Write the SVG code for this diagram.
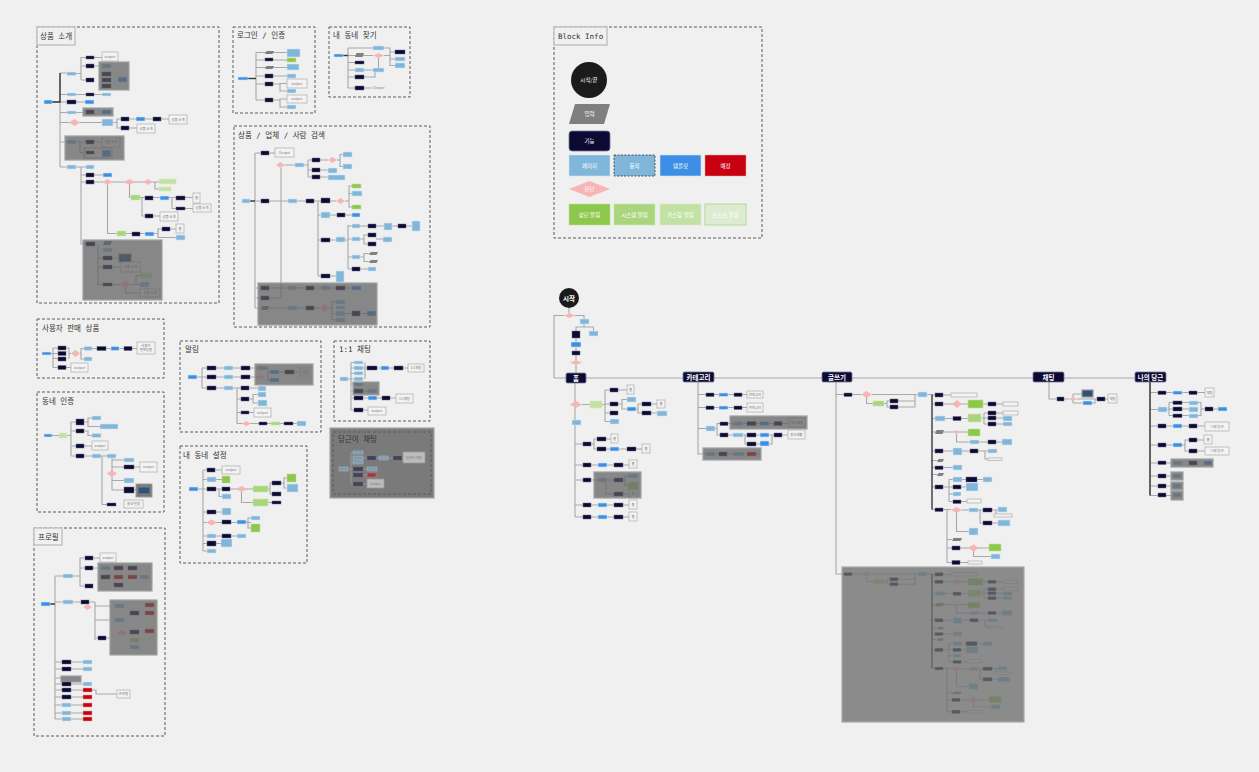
<svg xmlns="http://www.w3.org/2000/svg" xmlns:xlink="http://www.w3.org/1999/xlink" width="1259" height="772" viewBox="0 0 1259 772">
<style>
.f{fill:#0c0933;stroke:#6c6c8c;stroke-width:.5}
.p{fill:#80b6d9;stroke:#d3e4f0;stroke-width:.6}
.t{fill:#3d8fe6;stroke:#d3e4f0;stroke-width:.6}
.r{fill:#c8000f;stroke:#e0a0a0;stroke-width:.5}
.o{fill:#f3f3f3;stroke:#b5b5b5;stroke-width:.8}
.i{fill:#7f7f7f}
.d{fill:#f7b6b6}
.g1{fill:#8cc84b;stroke:#bfe09a;stroke-width:.6}
.g2{fill:#a9d67c;stroke:#cbe6b0;stroke-width:.6}
.g3{fill:#c3e1a3;stroke:#d9ecc6;stroke-width:.6}
.g4{fill:#dcebd1;stroke:#b3d897;stroke-width:1}
.sh{fill:#5e5e5e;fill-opacity:.72;stroke:#a0a0a0;stroke-width:1.2}
.db{fill:#2f5580;stroke:#8a8a8a;stroke-width:.8}
.c{stroke:#a8a8a8;stroke-width:1.1;fill:none}
.cd{stroke:#3a3a3a;stroke-width:1.4;fill:none}
.fr{fill:none;stroke:#5a5a5a;stroke-width:1;stroke-dasharray:3 2}
.tb{fill:#f0f0f0;stroke:#c4c4c4;stroke-width:1.5}
.tt{font-family:"DejaVu Sans Mono","Noto Sans CJK KR",monospace;font-size:7.5px;fill:#333}
.ot{font-family:"Noto Sans CJK KR",sans-serif;font-size:3.4px;fill:#777;text-anchor:middle}
.lt{font-family:"Noto Sans CJK KR",sans-serif;font-size:5.5px;fill:#fff;text-anchor:middle}
.mt{font-family:"Noto Sans CJK KR",sans-serif;font-size:6.5px;fill:#fff;text-anchor:middle;font-weight:bold}
.mn{fill:#0c0933;stroke:#7a7a9a;stroke-width:.8}
</style>
<defs>
<g id="wtreeC">
<path class="c" d="M852 394.5H861M872 394.5H918M866.5 398V403.5H873M884 403.5H887V401H890M887 403.5V407H890M898 401H915V394.5M898 407H915V401M927 394.5H932"/>
<path class="c" d="M932 395H951M943 404H1003M932 404H935M932 418.5H935M945 418.5H968M981 418H984M984 413V424M984 413H1003M984 418H1003M984 424H1003M932 432H968M956.5 434V442H1002M932 451H988M985 451V459H988M932 460.5H937M932 467.5H953M932 474.5H937M932 487H949M949 479.5V501.5M949 479.5H992M949 487H966M949 494H953M949 501.5H967M932 509.5H951M962 510H1007M980 510V523H998M996 510V515.5M956.5 513V531.5H969M947 509.5V562.5M947 539.5H952M947 548H989M973.5 551V556.5H991M947 562.5H968"/>
<path class="cd" d="M932 394.5V509.5"/>
</g>
<g id="wtreeN">
<rect class="f" x="844" y="393" width="8" height="3.5"/>
<polygon class="d" points="861,394.5 866.5,391 872,394.5 866.5,398"/>
<rect class="p" x="918" y="392" width="9" height="5"/>
<rect class="g2" x="873" y="401" width="11" height="5"/>
<rect class="f" x="890" y="399" width="8" height="4"/>
<rect class="f" x="890" y="405" width="8" height="4"/>
<rect class="f" x="935" y="393" width="8" height="4"/>
<rect class="o" x="951" y="393" width="26" height="4"/>
<rect class="f" x="935" y="402" width="8" height="4"/>
<polygon class="d" points="952,404 957,400 962,404 957,408"/>
<rect class="g1" x="968" y="400" width="15" height="8"/>
<rect class="f" x="988" y="402" width="8" height="4"/>
<rect class="o" x="1003" y="402" width="15" height="4"/>
<rect class="p" x="935" y="416" width="10" height="5"/>
<rect class="f" x="953" y="416.5" width="8" height="4"/>
<rect class="g2" x="968" y="414" width="13" height="8"/>
<rect class="f" x="988" y="411" width="8" height="4"/>
<rect class="o" x="1003" y="411" width="15" height="4"/>
<rect class="f" x="988" y="416" width="8" height="4"/>
<rect class="p" x="1003" y="416" width="9" height="5"/>
<rect class="f" x="988" y="422" width="8" height="4"/>
<rect class="p" x="1003" y="422" width="9" height="4"/>
<polygon class="i" points="935,434 936.5,430 944,430 942.5,434"/>
<polygon class="d" points="953,432 956.5,430 960,432 956.5,434"/>
<rect class="g1" x="968" y="429" width="12" height="7"/>
<rect class="p" x="970" y="440" width="9" height="4"/>
<rect class="f" x="988" y="440" width="8" height="4"/>
<rect class="p" x="1002" y="439" width="10" height="6"/>
<rect class="f" x="935" y="449" width="8" height="4"/>
<rect class="p" x="953" y="448" width="9" height="7"/>
<rect class="f" x="970" y="449" width="8" height="4"/>
<rect class="p" x="988" y="449" width="9" height="4"/>
<rect class="o" x="988" y="458" width="14" height="2.5"/>
<polygon class="i" points="937,462 938.5,459 944,459 942.5,462"/>
<rect class="f" x="935" y="466" width="8" height="3.5"/>
<rect class="p" x="953" y="465" width="9" height="5"/>
<polygon class="i" points="937,476 938.5,473 944,473 942.5,476"/>
<rect class="f" x="935" y="485" width="8" height="4"/>
<rect class="p" x="953" y="477" width="9" height="5"/>
<rect class="f" x="966" y="477" width="11" height="5"/>
<rect class="p" x="983" y="477" width="9" height="5"/>
<rect class="f" x="953" y="485" width="8" height="4"/>
<rect class="p" x="966" y="483" width="12" height="8"/>
<rect class="p" x="953" y="492" width="8" height="4"/>
<rect class="f" x="953" y="500" width="8" height="3.5"/>
<rect class="o" x="967" y="499" width="14" height="4"/>
<rect class="f" x="935" y="508" width="8" height="3.5"/>
<polygon class="d" points="951,510 956.5,507 962,510 956.5,513"/>
<rect class="p" x="969" y="508" width="9" height="4"/>
<rect class="f" x="983" y="508" width="9" height="4"/>
<rect class="p" x="998" y="507" width="9" height="5"/>
<rect class="o" x="994" y="514" width="18" height="3"/>
<rect class="f" x="983" y="521" width="9" height="4"/>
<rect class="p" x="998" y="520" width="12" height="6"/>
<rect class="p" x="969" y="528" width="9" height="7"/>
<polygon class="i" points="952,541 953.5,538 962,538 960.5,541"/>
<rect class="f" x="952" y="546" width="8" height="4"/>
<polygon class="d" points="968,548 973.5,544.5 979,548 973.5,551.5"/>
<rect class="g1" x="989" y="544" width="12" height="7"/>
<rect class="p" x="991" y="554" width="9" height="5"/>
<rect class="f" x="952" y="560.5" width="8" height="4"/>
<rect class="o" x="968" y="561" width="14" height="3"/>
</g>
</defs>
<rect width="1259" height="772" fill="#f0f0f0"/>

<g id="frames">
<rect class="fr" x="37" y="27" width="182" height="276"/>
<rect class="tb" x="37" y="27" width="38" height="18"/>
<text class="tt" x="40" y="39">상품 소개</text>
<rect class="fr" x="233" y="27" width="82" height="86"/>
<text class="tt" x="237" y="38">로그인 / 인증</text>
<rect class="fr" x="329" y="27" width="81" height="70"/>
<text class="tt" x="333" y="38">내 동네 찾기</text>
<rect class="fr" x="234" y="126" width="196" height="201"/>
<text class="tt" x="238" y="138">상품 / 업체 / 사람 검색</text>
<rect class="fr" x="554" y="27" width="208" height="211"/>
<rect class="tb" x="554" y="27" width="53" height="18"/>
<text class="tt" x="558" y="39">Block Info</text>
<rect class="fr" x="37" y="319" width="127" height="59"/>
<text class="tt" x="42" y="331">사용자 판매 상품</text>
<rect class="fr" x="37" y="392" width="127" height="120"/>
<text class="tt" x="42" y="404">동네 인증</text>
<rect class="fr" x="34" y="528" width="131" height="208"/>
<rect class="tb" x="34" y="528" width="28" height="17"/>
<text class="tt" x="38" y="540">프로필</text>
<rect class="fr" x="180" y="341" width="141" height="91"/>
<text class="tt" x="185" y="352">알림</text>
<rect class="fr" x="334" y="341" width="96" height="80"/>
<text class="tt" x="339" y="352">1:1 채팅</text>
<rect x="330" y="428" width="104" height="70" fill="#7a7a7a" stroke="#a5a5a5" stroke-width="1.2"/>
<rect class="fr" x="333" y="432" width="98" height="62" stroke="#333"/>
<text class="tt" x="338" y="442" fill="#222">당근이 채팅</text>
<rect class="fr" x="180" y="446" width="127" height="117"/>
<text class="tt" x="183" y="458">내 동네 설정</text>
</g>

<g id="connectors">
<!-- 상품 소개 -->
<path class="c" d="M52 102H60M60 73V167M60 73H67M76 73.5H81M81 57V80M81 57.5H102M81 66H99M81 80H86M60 94.5H102M60 102H85M60 112.5H83M60 122.5H102M113 122.5H117V119H169M117 122.5V128H137M60 142H67M76 142H102M80 142V152.5H84M60 167H86M81 167V244H86M81 175H103M81 182H159M152 182H155V189H159M129.5 185V197.5H193M172 197.5V208.5H193M142 197.5V216H160M107.5 185V233.5H154M154 233.5H158V229H176M158 233.5V237.5H176M98 244V285M98 258H119M98 267H121M98 284.5H120M131 284.5H136V275.5H140M136 284.5H140M125.5 288V293H140"/>
<path class="cd" d="M52 102H60V73"/>
<!-- 로그인 -->
<path class="c" d="M248 78.5H256M256 52.5V100M256 52.5H287M256 60H287M256 67.5H287M256 76H287M256 84H280V83.5H287M280 84V91H287M256 100H280V99H287M280 100V107H287"/>
<path class="cd" d="M248 78.5H256"/>
<!-- 내 동네 찾기 -->
<path class="c" d="M343 55.5H348M348 48V88M348 48H373M384 48H390V52H395M348 55.5H373M384 55.5H390M390 52V66M390 59H395M390 65.5H395M348 62.5H355M348 70H373M378.5 58V68M348 77H355M364 77H375V72M348 88H372"/>
<path class="cd" d="M343 55.5H348"/>
<!-- 검색 -->
<path class="c" d="M250 201H255M255 153V308M255 153H275M255 201H321M318 201V276M330 201H336M345 201H349V186H352M349 201V207H352M349 193.5H352M318 215H352M318 240H336M345 240H348M348 225V269M348 226H412M348 239H352M360 239H364V235H368M364 239V244H368M376 239H383M348 257H352M360 257H364V253.5H369M364 257V261.5H369M348 269H368M318 276H336M269 298H281V168M285 165H295M304 165H308M308 160V177M308 160H312M320 160H328M337 160H340V154.5H343M340 160V166.5H343M308 170H328M308 177H328M255 288H361M255 308H320M329 308H332V302H336M332 308V320H336M332 313.5H367M255 298H261"/>
<path class="cd" d="M250 201H255"/>
<!-- 사용자 판매 상품 -->
<path class="c" d="M51 353.5H53M53 348V367.5M53 348H58M53 353.5H58M53 358.5H58M66 348H69V359M69 353.5H71M80 353.5H81V348.5H84M81 353.5V359H84M92 348.5H137M53 367.5H71"/>
<!-- 동네 인증 -->
<path class="c" d="M52 435.5H59M67 435.5H71M71 422V456M71 422H76M84 422H88V418H92M88 422V426.5H100M71 431H76M84 431H88V435.5H92M71 446H92M71 456H107M102 456V504.5H107M112 458V490M112 460H124M112 467H140M112 473.5H107M112 480.5H124M112 490H124M134 490H138"/>
<!-- 알림 -->
<path class="c" d="M197 377H202M202 368V388M202 368H258M267 368H268V380H270M268 372H270M279 372H300M202 377H258M202 388H258M237 388V423.5M237 399H241M249 399H253V394.5H258M253 399V403H258M237 412.5H254M237 423.5H297"/>
<!-- 1:1 채팅 -->
<path class="c" d="M348 379H351M351 362.5V410M351 362.5H354M351 368H367M351 373.5H354M351 379H354M351 384H354M351 391H368M365 362.5V379M377 368H408M351 398H396M351 410H368"/>
<!-- 당근이 채팅 -->
<path class="c" d="M348 469H351M351 452.5V484M351 452.5H353M351 458H353M351 462.5H353M363 458H403M351 469H367M351 475H367M351 484H367" opacity=".6"/>
<!-- 내 동네 설정 -->
<path class="c" d="M198 489H203M203 470V551M203 470H222M203 479.5H222M203 489H253M216 489H219V496.5H222M241.5 492V502.5H253M268 489H270V483H272M270 489V494H272M281 483H284V478H287M284 483V488H287M268 502.5H272M203 512H222M203 522.5H251M246 522H248V518H251M248 522V528H251M203 536H237M203 543.5H221M203 551H207"/>
<!-- 프로필 -->
<path class="c" d="M50 604H55M55 576V719M55 576H63M73 576H80M80 558V586M80 558H100M80 568H98M80 586H85M55 602H63M73 602H81M89 602H95M95 602V640M95 606H110M95 620H110M95 638H98M106 638H110M55 662H62M71 662H83M55 669H62M71 669H83M55 678H62M55 684H62M71 684H83M55 690H62M71 690H83M92 690H96V694H117M55 697H62M71 697H83M55 705H62M71 705H83M55 713H62M71 713H83M55 719H62M71 719H83"/>
<path class="cd" d="M50 604H55"/>
<!-- main flow -->
<path class="c" d="M569 308V313M564 315.5H554V378M575 315.5H584V319M584 324V327H576V331M584 327H593.5V331M576 338V342M576 347V351M576 355V360M576 365V373"/>
<path class="c" d="M554 378H1135" stroke="#9a9a9a"/>
<path class="c" d="M575 383V517M582 404.5H590M602 404.5H605M605 390V421.5M605 390H627M605 404H610M605 413H610M605 421.5H610M618 404H622V399.5H627M622 404V409H627M636 409H638V404H642M638 409V413H642M651 404H657M651 413H657M575 444H583M591 444H594V439H611M594 444V449H642M575 465H629M575 480H583M591 480H614M623 480H625V476H628M625 480V485.5H628M606 480V494H614M623 494H629M575 505H629M575 517H629"/>
<path class="c" d="M698 382V454H703M698 394.5H747M698 407.5H747M698 428.5H706M715 428.5H717V423.5H720M717 428.5V435H720M728 423.5H789M728 435H788M743 435H745V444H747M756 444H760M769 444H772V435M703 454H761"/>
<path class="c" d="M836 382V574H844M836 394.5H844"/>
<use xlink:href="#wtreeC"/>
<use xlink:href="#wtreeC" transform="matrix(1,0,0,0.82,0,250.5)"/>
<path class="c" d="M1049 382V399H1057M1064 399H1069M1077 399H1097M1073 394V403M1073 394H1082M1073 403H1083M1092 403H1095V399M1105 399H1108"/>
<path class="c" d="M1150 382V495.5M1150 392.5H1205M1150 409.5H1158M1167 409.5H1169M1169 402.5V415.5M1169 402.5H1198M1169 409H1198M1169 415.5H1198M1198 402.5H1201V415.5H1198M1201 409H1218M1150 426H1205M1150 445H1182M1182 445H1185V440H1204M1185 445V451H1205M1150 463H1171M1150 476H1171M1150 486H1171M1150 495.5H1171"/>
<path class="cd" d="M1150 382V495.5"/>
</g>

<g id="legend">
<circle cx="589" cy="80" r="18" fill="#1b1b1b"/>
<text class="lt" x="589" y="82">시작/끝</text>
<polygon points="569,124 575,104 610,104 604,124" fill="#7f7f7f"/>
<text class="lt" x="589.5" y="116">입력</text>
<rect x="569" y="131" width="41" height="20" rx="3" class="mn"/>
<text class="lt" x="589.5" y="143">기능</text>
<rect class="p" x="569" y="155" width="41" height="21"/>
<text class="lt" x="589.5" y="167.5">페이지</text>
<rect x="614" y="155" width="41" height="21" fill="#80b6d9" stroke="#333" stroke-width=".8" stroke-dasharray="2 1.5"/>
<text class="lt" x="634.5" y="167.5">동작</text>
<rect class="t" x="660" y="155" width="41" height="21"/>
<text class="lt" x="680.5" y="167.5">템플릿</text>
<rect class="r" x="705" y="155" width="41" height="21"/>
<text class="lt" x="725.5" y="167.5">예정</text>
<polygon class="d" points="569,189 589.5,181 610,189 589.5,197"/>
<text class="lt" x="589.5" y="191">판단</text>
<rect class="g1" x="569" y="204" width="41" height="21"/>
<text class="lt" x="589.5" y="216.5">상단 알림</text>
<rect class="g2" x="614" y="204" width="41" height="21"/>
<text class="lt" x="634.5" y="216.5">시스템 알림</text>
<rect class="g3" x="660" y="204" width="41" height="21"/>
<text class="lt" x="680.5" y="216.5">커스텀 알림</text>
<rect class="g4" x="705" y="204" width="41" height="21"/>
<text class="lt" x="725.5" y="216.5">토스트 알림</text>
</g>

<g id="product-intro">
<rect class="t" x="44" y="100" width="8" height="4"/>
<rect class="p" x="67" y="72" width="9" height="3.5"/>
<rect class="f" x="86" y="56" width="8" height="3"/>
<rect class="o" x="102" y="52" width="16" height="9"/><text class="ot" x="110" y="57.7">output</text>
<rect class="f" x="86" y="64" width="8" height="4"/>
<rect class="p" x="102" y="64" width="9" height="4"/>
<rect class="f" x="102" y="72" width="9" height="4"/>
<rect class="f" x="102" y="78" width="9" height="4"/>
<rect class="f" x="102" y="84" width="9" height="4"/>
<rect class="t" x="118" y="77" width="9" height="5"/>
<rect class="sh" x="99" y="62" width="30" height="28"/>
<rect class="f" x="86" y="78" width="8" height="4"/>
<rect class="p" x="67" y="93" width="9" height="3"/>
<rect class="f" x="86" y="93" width="8" height="3"/>
<rect class="p" x="102" y="93" width="9" height="3"/>
<rect class="f" x="67" y="100" width="9" height="4"/>
<rect class="t" x="85" y="100" width="9" height="4"/>
<rect class="p" x="67" y="111" width="9" height="3"/>
<rect class="f" x="86" y="110" width="8" height="4"/>
<rect class="t" x="102" y="110" width="9" height="4"/>
<rect class="sh" x="83" y="108" width="30" height="8"/>
<polygon class="d" points="69,122.5 74.5,119 80,122.5 74.5,126"/>
<rect class="p" x="102" y="119" width="11" height="7"/>
<rect class="f" x="121" y="117" width="8" height="4"/>
<rect class="t" x="136" y="117" width="9" height="4"/>
<rect class="f" x="153" y="117" width="8" height="4"/>
<rect class="o" x="169" y="115" width="18" height="9"/><text class="ot" x="178" y="120.7">상품 소개</text>
<rect class="f" x="121" y="126" width="8" height="4"/>
<rect class="o" x="137" y="124" width="18" height="9"/><text class="ot" x="146" y="129.7">상품 소개</text>
<rect class="p" x="67" y="140" width="9" height="4"/>
<rect class="f" x="86" y="140" width="8" height="4"/>
<rect class="o" x="102" y="137" width="18" height="10"/><text class="ot" x="111" y="143.2">상품 소개</text>
<rect class="f" x="86" y="151" width="8" height="3"/>
<rect x="84" y="148" width="28" height="10" fill="none" stroke="#b89090" stroke-width=".8"/>
<rect class="t" x="102" y="150" width="9" height="7"/>
<rect class="sh" x="65" y="136" width="59" height="24"/>
<rect class="p" x="67" y="165" width="9" height="4"/>
<rect class="p" x="86" y="165" width="8" height="4"/>
<rect class="f" x="86" y="173" width="8" height="4"/>
<rect class="t" x="103" y="173" width="9" height="4"/>
<rect class="f" x="86" y="180" width="8" height="4"/>
<polygon class="d" points="103,182 107.5,179 112,182 107.5,185"/>
<polygon class="d" points="124,182 129.5,179 135,182 129.5,185"/>
<polygon class="d" points="144,182 148,179 152,182 148,185"/>
<rect class="g3" x="159" y="179" width="17" height="5"/>
<rect class="g3" x="159" y="187" width="12" height="4"/>
<rect class="g2" x="131" y="195" width="9" height="5"/>
<rect class="f" x="145" y="196" width="8" height="4"/>
<rect class="t" x="160" y="196" width="9" height="4"/>
<rect class="f" x="176" y="196" width="9" height="4"/>
<rect class="o" x="193" y="193" width="7" height="10"/><text class="ot" x="196.5" y="199.2">홈</text>
<rect class="f" x="176" y="207" width="9" height="3"/>
<rect class="o" x="193" y="204" width="18" height="8"/><text class="ot" x="202" y="209.2">상품 소개</text>
<rect class="f" x="145" y="214" width="8" height="4"/>
<rect class="o" x="160" y="212" width="18" height="9"/><text class="ot" x="169" y="217.7">상품 소개</text>
<rect class="g2" x="117" y="231" width="9" height="5"/>
<rect class="f" x="132" y="232" width="8" height="4"/>
<rect class="t" x="145" y="232" width="9" height="4"/>
<rect class="f" x="162" y="227" width="8" height="4"/>
<rect class="o" x="176" y="224" width="8" height="9"/><text class="ot" x="180" y="229.7">홈</text>
<rect class="p" x="176" y="235" width="9" height="5"/>
<rect class="f" x="86" y="242" width="9" height="4"/>
<polygon class="i" points="103,245 104.5,241 112,241 110.5,245"/>
<rect class="p" x="103" y="248" width="9" height="4"/>
<rect class="f" x="103" y="256" width="9" height="4"/>
<rect class="db" x="119" y="254" width="12" height="8"/>
<rect class="f" x="103" y="265" width="9" height="4"/>
<rect class="o" x="121" y="262" width="19" height="10"/><text class="ot" x="130.5" y="268.2">상품 소개</text>
<rect class="f" x="103" y="283" width="9" height="3"/>
<polygon class="d" points="120,284.5 125.5,281 131,284.5 125.5,288"/>
<rect class="g3" x="140" y="273" width="12" height="5"/>
<rect class="p" x="140" y="282" width="9" height="5"/>
<rect class="o" x="140" y="289" width="20" height="8"/><text class="ot" x="150" y="294.2">상품 소개</text>
<rect class="sh" x="83" y="240" width="79" height="60"/>
</g>

<g id="login">
<rect class="t" x="238" y="77" width="10" height="3"/>
<polygon class="i" points="265,54 266.5,51 274,51 272.5,54"/>
<rect class="p" x="287" y="49" width="13" height="8"/>
<rect class="f" x="265" y="58" width="8" height="3"/>
<rect class="g1" x="287" y="58" width="9" height="4"/>
<polygon class="i" points="265,69 266.5,66 274,66 272.5,69"/>
<rect class="p" x="287" y="64" width="12" height="6"/>
<rect class="f" x="265" y="74" width="8" height="4"/>
<rect class="p" x="287" y="74" width="9" height="4"/>
<rect class="f" x="265" y="82" width="8" height="4"/>
<rect class="o" x="287" y="79" width="20" height="9"/><text class="ot" x="297" y="84.7">output</text>
<rect class="p" x="287" y="89" width="9" height="4"/>
<rect class="f" x="265" y="98" width="8" height="4"/>
<rect class="o" x="287" y="95" width="20" height="8"/><text class="ot" x="297" y="100.2">output</text>
<rect class="p" x="287" y="105" width="9" height="4"/>
</g>

<g id="find-town">
<rect class="t" x="334" y="54" width="9" height="3"/>
<rect class="p" x="373" y="46" width="11" height="4"/>
<rect class="f" x="395" y="50" width="10" height="4"/>
<polygon class="i" points="355,57 356.5,53 364,53 362.5,57"/>
<polygon class="d" points="373,55.5 378.5,53 384,55.5 378.5,58"/>
<rect class="p" x="395" y="57" width="10" height="4"/>
<rect class="p" x="395" y="63" width="10" height="5"/>
<rect class="f" x="355" y="61" width="9" height="3"/>
<rect class="p" x="355" y="68" width="9" height="4"/>
<rect class="p" x="373" y="68" width="11" height="4"/>
<rect class="f" x="355" y="75" width="9" height="4"/>
<rect class="f" x="355" y="86" width="9" height="4"/>
<text class="ot" x="379" y="89.3">Output</text>
</g>

<g id="search">
<rect class="p" x="242" y="199" width="8" height="4"/>
<rect class="f" x="261" y="151" width="8" height="4"/>
<rect class="o" x="275" y="148" width="19" height="9"/><text class="ot" x="284.5" y="153.7">Output</text>
<polygon class="d" points="276,165 280.5,162 285,165 280.5,168"/>
<rect class="p" x="295" y="163" width="9" height="4"/>
<rect class="f" x="312" y="158" width="8" height="4"/>
<polygon class="d" points="328,160 332.5,157 337,160 332.5,163"/>
<rect class="p" x="343" y="152" width="9" height="5"/>
<rect class="p" x="343" y="164" width="9" height="5"/>
<rect class="f" x="312" y="168" width="8" height="4"/>
<rect class="p" x="328" y="168" width="9" height="5"/>
<rect class="f" x="312" y="175" width="8" height="4"/>
<rect class="p" x="328" y="175" width="17" height="5"/>
<rect class="f" x="261" y="199" width="8" height="4"/>
<rect class="p" x="288" y="199" width="9" height="4"/>
<rect class="f" x="306" y="199" width="8" height="4"/>
<rect class="f" x="321" y="198" width="9" height="5"/>
<polygon class="d" points="336,201 340.5,198 345,201 340.5,204"/>
<rect class="g1" x="352" y="184" width="9" height="4"/>
<rect class="p" x="352" y="191" width="10" height="5"/>
<rect class="g1" x="352" y="205" width="9" height="4"/>
<rect class="p" x="321" y="212" width="9" height="6"/>
<rect class="f" x="337" y="213" width="8" height="4"/>
<rect class="t" x="352" y="213" width="8" height="4"/>
<rect class="f" x="321" y="238" width="9" height="4"/>
<rect class="p" x="336" y="237" width="9" height="5"/>
<rect class="p" x="352" y="224" width="8" height="4"/>
<rect class="f" x="368" y="224" width="8" height="4"/>
<rect class="p" x="384" y="223" width="8" height="7"/>
<rect class="f" x="398" y="224" width="8" height="4"/>
<rect class="p" x="412" y="221" width="8" height="10"/>
<rect class="p" x="352" y="237" width="8" height="4"/>
<rect class="f" x="368" y="233" width="8" height="4"/>
<rect class="f" x="368" y="242" width="8" height="4"/>
<rect class="p" x="383" y="237" width="9" height="5"/>
<rect class="p" x="352" y="255" width="8" height="4"/>
<polygon class="i" points="369,255 370.5,252 378,252 376.5,255"/>
<polygon class="i" points="369,263 370.5,260 378,260 376.5,263"/>
<rect class="f" x="352" y="267" width="8" height="4"/>
<rect class="p" x="368" y="267" width="8" height="4"/>
<rect class="f" x="321" y="274" width="9" height="4"/>
<rect class="p" x="336" y="271" width="8" height="11"/>
<rect class="f" x="261" y="286" width="8" height="4"/>
<rect class="p" x="288" y="286" width="9" height="4"/>
<rect class="f" x="306" y="286" width="8" height="4"/>
<rect class="p" x="321" y="286" width="9" height="4"/>
<rect class="f" x="336" y="286" width="9" height="4"/>
<rect class="t" x="352" y="286" width="9" height="4"/>
<rect class="f" x="261" y="296" width="8" height="4"/>
<polygon class="i" points="261,310 262.5,306 269,306 267.5,310"/>
<rect class="p" x="288" y="306" width="9" height="4"/>
<rect class="f" x="306" y="306" width="8" height="4"/>
<polygon class="d" points="320,308 324.5,304 329,308 324.5,312"/>
<rect class="p" x="336" y="300" width="9" height="4"/>
<rect class="p" x="336" y="306" width="9" height="3"/>
<rect class="p" x="336" y="311" width="9" height="5"/>
<rect class="f" x="352" y="311" width="8" height="5"/>
<rect class="t" x="367" y="311" width="9" height="5"/>
<rect class="p" x="336" y="318" width="9" height="4"/>
<rect class="sh" x="258" y="283" width="119" height="42"/>
</g>

<g id="user-sales">
<rect class="t" x="42" y="352" width="9" height="3"/>
<rect class="f" x="58" y="346" width="8" height="4"/>
<rect class="f" x="58" y="351.5" width="8" height="4"/>
<rect class="f" x="58" y="357" width="8" height="4"/>
<polygon class="d" points="71,353.5 75.5,350 80,353.5 75.5,357"/>
<rect class="p" x="84" y="346.5" width="8" height="4"/>
<rect class="f" x="97" y="346.5" width="9" height="4"/>
<rect class="t" x="111" y="346.5" width="8" height="4"/>
<rect class="f" x="124" y="346.5" width="8" height="4"/>
<rect class="o" x="137" y="342" width="18" height="12"/>
<text class="ot" x="146" y="347">사용자</text><text class="ot" x="146" y="351">판매상품</text>
<rect class="p" x="84" y="357" width="8" height="4"/>
<rect class="f" x="58" y="365.5" width="8" height="4"/>
<rect class="o" x="71" y="363" width="17" height="9"/><text class="ot" x="79.5" y="368.7">output</text>
</g>

<g id="town-auth">
<rect class="t" x="44" y="434" width="8" height="3"/>
<rect class="g3" x="59" y="433" width="8" height="5"/>
<rect class="f" x="76" y="419" width="8" height="6"/>
<rect class="p" x="92" y="416" width="9" height="4"/>
<rect class="p" x="100" y="424" width="18" height="5"/>
<rect class="f" x="76" y="429" width="8" height="4"/>
<rect class="p" x="92" y="433.5" width="9" height="4"/>
<rect class="f" x="76" y="444" width="8" height="4"/>
<rect class="o" x="92" y="441" width="16" height="9"/><text class="ot" x="100" y="446.7">output</text>
<rect class="f" x="76" y="454" width="8" height="4"/>
<rect class="p" x="92" y="454" width="9" height="4"/>
<rect class="p" x="107" y="454" width="9" height="4"/>
<rect class="p" x="124" y="458" width="10" height="4"/>
<rect class="f" x="124" y="465" width="10" height="4"/>
<rect class="o" x="140" y="462" width="17" height="10"/><text class="ot" x="148.5" y="468.2">output</text>
<polygon class="d" points="107,473.5 112,470 117,473.5 112,477"/>
<rect class="p" x="124" y="478" width="10" height="5"/>
<rect class="f" x="124" y="487" width="10" height="6"/>
<rect x="136" y="484" width="16" height="13" fill="#777" stroke="#a0a0a0" stroke-width="1"/>
<rect class="db" x="138" y="487" width="12" height="7"/>
<rect class="f" x="107" y="503" width="9" height="3"/>
<rect class="o" x="124" y="500" width="19" height="8"/><text class="ot" x="133.5" y="505.2">동네 인증</text>
</g>

<g id="profile">
<rect class="t" x="41" y="602" width="9" height="4"/>
<rect class="p" x="63" y="574" width="10" height="4"/>
<rect class="f" x="85" y="556" width="8" height="4"/>
<rect class="o" x="100" y="553" width="16" height="9"/><text class="ot" x="108" y="558.7">output</text>
<rect class="f" x="85" y="566" width="8" height="4"/>
<rect class="p" x="101" y="566" width="9" height="4"/>
<rect class="f" x="114" y="566" width="9" height="4"/>
<rect class="f" x="128" y="566" width="9" height="4"/>
<rect class="f" x="101" y="575" width="9" height="4"/>
<rect class="r" x="114" y="575" width="9" height="4"/>
<rect class="r" x="128" y="575" width="9" height="4"/>
<rect class="p" x="140" y="575" width="9" height="4"/>
<rect class="f" x="114" y="583" width="9" height="4"/>
<rect class="sh" x="98" y="563" width="54" height="28"/>
<rect class="f" x="85" y="584" width="8" height="4"/>
<rect class="p" x="63" y="600" width="10" height="4"/>
<rect class="f" x="81" y="600" width="8" height="4"/>
<polygon class="d" points="83,607 87.5,604 92,607 87.5,610"/>
<rect class="f" x="98" y="636" width="8" height="4"/>
<rect class="p" x="115" y="604" width="9" height="4"/>
<rect class="r" x="145" y="603" width="9" height="4"/>
<rect class="f" x="130" y="611" width="9" height="4"/>
<rect class="r" x="145" y="611" width="9" height="4"/>
<rect class="p" x="115" y="618" width="9" height="4"/>
<polygon class="d" points="117,633 122,630 127,633 122,636"/>
<rect class="f" x="130" y="630" width="9" height="4"/>
<rect class="r" x="145" y="629" width="9" height="4"/>
<rect class="g2" x="130" y="638" width="9" height="4"/>
<rect class="p" x="130" y="645" width="9" height="4"/>
<rect class="sh" x="110" y="600" width="47" height="55"/>
<rect class="f" x="62" y="660" width="9" height="4"/>
<rect class="p" x="83" y="660" width="9" height="4"/>
<rect class="f" x="62" y="667" width="9" height="4"/>
<rect class="p" x="83" y="667" width="9" height="4"/>
<rect class="sh" x="61" y="676" width="20" height="6"/>
<rect class="f" x="62" y="682" width="9" height="4"/>
<rect class="p" x="83" y="682" width="9" height="4"/>
<rect class="f" x="62" y="688" width="9" height="4"/>
<rect class="r" x="83" y="688" width="9" height="4"/>
<rect class="o" x="117" y="690" width="13" height="8"/><text class="ot" x="123.5" y="695.2">프로필</text>
<rect class="f" x="62" y="695" width="9" height="4"/>
<rect class="r" x="83" y="695" width="9" height="4"/>
<rect class="p" x="62" y="703" width="9" height="4"/>
<rect class="r" x="83" y="703" width="9" height="4"/>
<rect class="p" x="62" y="711" width="9" height="4"/>
<rect class="r" x="83" y="711" width="9" height="4"/>
<rect class="p" x="62" y="717" width="9" height="4"/>
<rect class="r" x="83" y="717" width="9" height="4"/>
</g>

<g id="notice">
<rect class="t" x="188" y="375" width="9" height="4"/>
<rect class="f" x="207" y="366" width="9" height="4"/>
<rect class="p" x="224" y="366" width="9" height="4"/>
<rect class="f" x="241" y="366" width="9" height="4"/>
<rect class="p" x="258" y="366" width="9" height="4"/>
<rect class="t" x="270" y="370" width="9" height="4"/>
<rect class="f" x="285" y="370" width="9" height="4"/>
<rect class="o" x="300" y="368" width="8" height="8"/><text class="ot" x="304" y="373.2">알림</text>
<rect class="t" x="270" y="378" width="9" height="4"/>
<polygon class="d" points="258,377 261.5,375 265,377 261.5,379"/>
<rect class="sh" x="255" y="364" width="58" height="21"/>
<rect class="f" x="207" y="375" width="9" height="4"/>
<rect class="p" x="224" y="375" width="9" height="4"/>
<rect class="f" x="241" y="375" width="9" height="4"/>
<rect class="f" x="207" y="386" width="9" height="4"/>
<rect class="p" x="224" y="386" width="9" height="4"/>
<rect class="f" x="241" y="386" width="8" height="4"/>
<rect class="p" x="258" y="386" width="8" height="5"/>
<rect class="f" x="241" y="397" width="8" height="4"/>
<rect class="p" x="258" y="392" width="8" height="5"/>
<rect class="p" x="258" y="400" width="9" height="6"/>
<rect class="f" x="241" y="411" width="8" height="3"/>
<rect class="o" x="254" y="408" width="17" height="9"/><text class="ot" x="262.5" y="413.7">output</text>
<polygon class="d" points="242,423.5 246.5,421 251,423.5 246.5,426"/>
<rect class="f" x="259" y="422" width="8" height="3"/>
<rect class="g2" x="271" y="422" width="9" height="3"/>
<rect class="f" x="284" y="422" width="9" height="3"/>
<rect class="p" x="297" y="421" width="9" height="5"/>
</g>

<g id="chat-1on1">
<rect class="p" x="340" y="377" width="8" height="4"/>
<rect class="p" x="354" y="361" width="9" height="3"/>
<rect class="p" x="354" y="366" width="9" height="4"/>
<rect class="p" x="354" y="371.5" width="9" height="3.5"/>
<rect class="p" x="354" y="377" width="9" height="4"/>
<rect class="p" x="354" y="383" width="9" height="3"/>
<rect class="f" x="354" y="389" width="9" height="4"/>
<rect class="p" x="368" y="389" width="9" height="4"/>
<rect class="sh" x="353" y="382" width="26" height="13"/>
<rect class="f" x="367" y="366" width="10" height="4"/>
<rect class="t" x="381" y="366" width="8" height="4"/>
<rect class="f" x="394" y="366" width="9" height="4"/>
<rect class="o" x="408" y="364" width="16" height="8"/><text class="ot" x="416" y="369.2">1:1채팅</text>
<rect class="f" x="354" y="396" width="9" height="4"/>
<rect class="t" x="368" y="396" width="9" height="4"/>
<rect class="f" x="382" y="396" width="8" height="4"/>
<rect class="o" x="396" y="394" width="17" height="9"/><text class="ot" x="404.5" y="399.7">1:1채팅</text>
<rect class="f" x="354" y="408" width="9" height="4"/>
<rect class="o" x="368" y="407" width="18" height="8"/><text class="ot" x="377" y="412.2">output</text>
</g>

<g id="chat-bot" opacity=".55">
<rect class="p" x="339" y="467" width="9" height="4"/>
<rect class="p" x="353" y="451" width="10" height="3"/>
<rect class="p" x="353" y="456" width="10" height="4"/>
<rect class="p" x="353" y="461" width="10" height="3"/>
<rect class="f" x="367" y="456" width="9" height="4"/>
<rect class="p" x="379" y="456" width="9" height="4"/>
<rect class="f" x="393" y="456" width="9" height="4"/>
<rect class="o" x="403" y="452" width="22" height="11"/><text class="ot" x="414" y="458.7">당근이 채팅</text>
<rect class="f" x="353" y="467" width="10" height="4"/>
<rect class="p" x="367" y="467" width="10" height="4"/>
<rect class="f" x="353" y="473" width="10" height="4"/>
<rect class="r" x="367" y="473" width="9" height="4"/>
<rect class="f" x="353" y="482" width="10" height="4"/>
<rect class="o" x="367" y="479" width="17" height="9"/><text class="ot" x="375.5" y="484.7">output</text>
</g>

<g id="town-setting">
<rect class="t" x="189" y="487" width="9" height="4"/>
<rect class="f" x="207" y="468" width="8" height="4"/>
<rect class="o" x="222" y="466" width="18" height="8"/><text class="ot" x="231" y="471.2">output</text>
<rect class="p" x="207" y="477" width="9" height="5"/>
<rect class="g1" x="222" y="476" width="8" height="7"/>
<rect class="f" x="207" y="487" width="9" height="4"/>
<rect class="f" x="222" y="487" width="8" height="4"/>
<polygon class="d" points="236,489 241.5,486 247,489 241.5,492"/>
<rect class="g2" x="253" y="486" width="15" height="6"/>
<rect class="f" x="272" y="481" width="9" height="4"/>
<rect class="g1" x="287" y="474" width="9" height="8"/>
<rect class="p" x="287" y="484" width="11" height="8"/>
<rect class="f" x="272" y="492" width="9" height="4"/>
<rect class="g2" x="253" y="499" width="15" height="7"/>
<rect class="f" x="272" y="501" width="9" height="3"/>
<rect class="p" x="222" y="494" width="9" height="5"/>
<rect class="f" x="207" y="510" width="9" height="4"/>
<rect class="p" x="222" y="508" width="9" height="7"/>
<polygon class="d" points="206,522.5 211.5,519.5 217,522.5 211.5,525.5"/>
<rect class="f" x="222" y="520" width="9" height="4"/>
<rect class="t" x="237" y="520" width="9" height="4"/>
<rect class="p" x="251" y="516" width="9" height="4"/>
<rect class="g1" x="251" y="524" width="9" height="8"/>
<rect class="p" x="207" y="534" width="9" height="4"/>
<rect class="f" x="222" y="534" width="9" height="4"/>
<rect class="p" x="237" y="534" width="9" height="4"/>
<rect class="f" x="207" y="541" width="9" height="5"/>
<rect class="p" x="221" y="539" width="11" height="8"/>
<rect class="p" x="207" y="549" width="9" height="4"/>
</g>

<g id="main-start">
<circle cx="569" cy="298" r="10" fill="#1b1b1b"/>
<text class="mt" x="569" y="300.5">시작</text>
<polygon class="d" points="564,315.5 569.5,313 575,315.5 569.5,318"/>
<rect class="p" x="580" y="319" width="9" height="5"/>
<rect class="f" x="572" y="331" width="8" height="7"/>
<rect class="p" x="589" y="331" width="9" height="5"/>
<rect class="t" x="571" y="342" width="10" height="5"/>
<rect class="f" x="572" y="351" width="8" height="4"/>
<polygon class="d" points="570,362.5 576,360 582,362.5 576,365"/>
</g>

<g id="home">
<rect class="mn" x="566" y="373" width="20" height="10" rx="1.5"/>
<text class="mt" x="576" y="380.5">홈</text>
<polygon class="d" points="570,404.5 576,401 582,404.5 576,408"/>
<rect class="g3" x="590" y="401" width="12" height="7"/>
<rect class="f" x="610" y="388" width="8" height="4"/>
<rect class="o" x="627" y="385" width="7" height="9"/><text class="ot" x="630.5" y="390.7">홈</text>
<rect class="p" x="627" y="397" width="9" height="5"/>
<rect class="f" x="610" y="402" width="8" height="4"/>
<rect class="f" x="610" y="411" width="8" height="4"/>
<rect class="t" x="627" y="407" width="9" height="4"/>
<rect class="f" x="642" y="402" width="9" height="4"/>
<rect class="o" x="657" y="400" width="8" height="8"/><text class="ot" x="661" y="405.2">홈</text>
<rect class="f" x="642" y="411" width="9" height="4"/>
<rect class="p" x="657" y="411" width="10" height="5"/>
<rect class="p" x="610" y="419" width="9" height="5"/>
<rect class="p" x="572" y="420" width="9" height="5"/>
<rect class="f" x="583" y="442" width="8" height="4"/>
<rect class="f" x="597" y="437" width="9" height="4"/>
<rect class="o" x="611" y="434" width="7" height="9"/><text class="ot" x="614.5" y="439.7">홈</text>
<rect class="f" x="597" y="447" width="9" height="4"/>
<rect class="t" x="610" y="447" width="9" height="4"/>
<rect class="f" x="627" y="447" width="9" height="4"/>
<rect class="o" x="642" y="444" width="8" height="9"/><text class="ot" x="646" y="449.7">홈</text>
<rect class="f" x="583" y="463" width="8" height="4"/>
<rect class="t" x="598" y="463" width="9" height="4"/>
<rect class="f" x="614" y="463" width="9" height="4"/>
<rect class="o" x="629" y="460" width="8" height="8"/><text class="ot" x="633" y="465.2">홈</text>
<rect class="f" x="583" y="478" width="8" height="4"/>
<rect class="p" x="598" y="478" width="9" height="4"/>
<rect class="f" x="614" y="478" width="9" height="4"/>
<rect class="p" x="628" y="474" width="10" height="4"/>
<rect class="g2" x="628" y="482" width="10" height="7"/>
<rect class="f" x="614" y="492" width="9" height="4"/>
<rect class="o" x="629" y="489" width="8" height="9"/><text class="ot" x="633" y="494.7">홈</text>
<rect class="sh" x="594" y="472" width="47" height="26"/>
<rect class="f" x="583" y="503" width="8" height="4"/>
<rect class="t" x="598" y="503" width="9" height="4"/>
<rect class="f" x="614" y="503" width="9" height="4"/>
<rect class="o" x="629" y="500" width="8" height="9"/><text class="ot" x="633" y="505.7">홈</text>
<rect class="f" x="583" y="515" width="8" height="4"/>
<rect class="t" x="598" y="515" width="9" height="4"/>
<rect class="f" x="614" y="515" width="9" height="4"/>
<rect class="o" x="629" y="512" width="8" height="9"/><text class="ot" x="633" y="517.7">홈</text>
</g>

<g id="category">
<rect class="mn" x="683" y="372" width="31" height="10" rx="1.5"/>
<text class="mt" x="698.5" y="379.5">카테고리</text>
<rect class="f" x="706" y="393" width="8" height="3.5"/>
<rect class="t" x="719" y="393" width="9" height="3.5"/>
<rect class="f" x="734" y="393" width="8" height="3.5"/>
<rect class="o" x="747" y="391" width="16" height="7"/><text class="ot" x="755" y="395.7">카테고리</text>
<rect class="f" x="706" y="406" width="8" height="3.5"/>
<rect class="t" x="719" y="406" width="9" height="3.5"/>
<rect class="f" x="734" y="406" width="8" height="3.5"/>
<rect class="o" x="747" y="403" width="16" height="9"/><text class="ot" x="755" y="408.7">카테고리</text>
<rect class="p" x="706" y="426" width="9" height="5"/>
<rect class="f" x="720" y="422" width="8" height="3.5"/>
<rect class="p" x="733" y="421.5" width="10" height="4"/>
<rect class="f" x="747" y="421.5" width="9" height="4"/>
<rect class="t" x="760" y="421.5" width="9" height="4"/>
<rect class="f" x="774" y="421.5" width="8" height="4"/>
<rect class="o" x="789" y="418" width="16" height="9"/><text class="ot" x="797" y="423.7">동네생활</text>
<rect class="sh" x="730" y="416" width="77" height="13"/>
<rect class="f" x="720" y="433" width="8" height="4"/>
<rect class="p" x="733" y="433" width="10" height="4"/>
<rect class="f" x="747" y="433" width="9" height="4"/>
<rect class="t" x="760" y="433" width="9" height="4"/>
<rect class="f" x="774" y="433" width="8" height="4"/>
<rect class="o" x="788" y="430" width="17" height="9"/><text class="ot" x="796.5" y="435.7">동네생활</text>
<rect class="f" x="747" y="442" width="9" height="4"/>
<rect class="t" x="760" y="441" width="9" height="5"/>
<rect class="p" x="706" y="452" width="9" height="4"/>
<rect class="f" x="719" y="452" width="8" height="4"/>
<rect class="p" x="733" y="452" width="11" height="4"/>
<rect class="r" x="747" y="452" width="9" height="4"/>
<rect class="sh" x="703" y="448" width="58" height="12"/>
</g>

<g id="write">
<rect class="mn" x="822" y="372" width="30" height="10" rx="1.5"/>
<text class="mt" x="837" y="379.5">글쓰기</text>
<use xlink:href="#wtreeN"/>
<use xlink:href="#wtreeN" transform="matrix(1,0,0,0.82,0,250.5)"/>
<rect x="842" y="567" width="182" height="155" fill="#6e6e6e" fill-opacity=".78" stroke="#a8a8a8" stroke-width="1.2"/>
</g>

<g id="chat">
<rect class="mn" x="1033" y="372" width="31" height="10" rx="1.5"/>
<text class="mt" x="1048.5" y="379.5">채팅</text>
<rect class="f" x="1057" y="397" width="7" height="4"/>
<polygon class="d" points="1069,399 1073,397 1077,399 1073,401"/>
<rect x="1082" y="390" width="11" height="7" fill="#2f4f75" stroke="#9a9a9a" stroke-width="1.2"/>
<rect class="t" x="1083" y="401" width="9" height="4"/>
<rect class="f" x="1097" y="397" width="8" height="4"/>
<rect class="o" x="1108" y="394" width="9" height="9"/><text class="ot" x="1112.5" y="399.7">채팅</text>
</g>

<g id="my-carrot">
<rect class="mn" x="1135" y="372" width="31" height="10" rx="1.5"/>
<text class="mt" x="1150.5" y="379.5">나의 당근</text>
<rect class="f" x="1158" y="391" width="8" height="3.5"/>
<rect class="t" x="1173" y="391" width="9" height="3.5"/>
<rect class="f" x="1189" y="391" width="8" height="3.5"/>
<rect class="o" x="1205" y="388" width="9" height="9"/><text class="ot" x="1209.5" y="393.7">채팅</text>
<rect class="p" x="1158" y="407" width="9" height="5"/>
<rect class="f" x="1173" y="401" width="9" height="3.5"/>
<rect class="f" x="1173" y="407" width="9" height="4"/>
<rect class="f" x="1173" y="414" width="9" height="3.5"/>
<rect class="p" x="1189" y="401" width="9" height="4"/>
<rect class="p" x="1189" y="407" width="9" height="5"/>
<rect class="p" x="1189" y="414" width="9" height="4"/>
<rect class="f" x="1205" y="407" width="8" height="4"/>
<rect class="t" x="1218" y="407" width="9" height="4"/>
<rect class="f" x="1158" y="424" width="8" height="4"/>
<rect class="t" x="1173" y="424" width="9" height="4"/>
<rect class="f" x="1189" y="424" width="8" height="4"/>
<rect class="o" x="1205" y="422" width="24" height="9"/><text class="ot" x="1217" y="427.7">나의 당근</text>
<rect class="f" x="1158" y="443" width="8" height="4"/>
<rect class="t" x="1173" y="443" width="9" height="4"/>
<rect class="f" x="1189" y="438" width="8" height="4"/>
<rect class="o" x="1204" y="435" width="8" height="9"/><text class="ot" x="1208" y="440.7">홈</text>
<rect class="f" x="1189" y="449" width="8" height="4"/>
<rect class="o" x="1205" y="447" width="24" height="8"/><text class="ot" x="1217" y="452.2">나의 당근</text>
<rect class="f" x="1158" y="461" width="8" height="3.5"/>
<rect class="p" x="1173" y="461" width="9" height="4"/>
<rect class="f" x="1189" y="461" width="8" height="4"/>
<rect class="t" x="1204" y="461" width="8" height="4"/>
<rect class="sh" x="1171" y="459" width="42" height="8"/>
<rect class="f" x="1158" y="474" width="8" height="4"/>
<rect class="p" x="1173" y="474" width="8" height="4"/>
<rect class="sh" x="1171" y="472" width="12" height="8"/>
<rect class="f" x="1158" y="484" width="8" height="4"/>
<rect class="p" x="1173" y="484" width="8" height="4"/>
<rect class="sh" x="1171" y="482" width="12" height="8"/>
<rect class="f" x="1158" y="493" width="8" height="4"/>
<rect class="p" x="1173" y="493" width="8" height="4"/>
<rect class="sh" x="1171" y="491" width="12" height="9"/>
</g>
</svg>
